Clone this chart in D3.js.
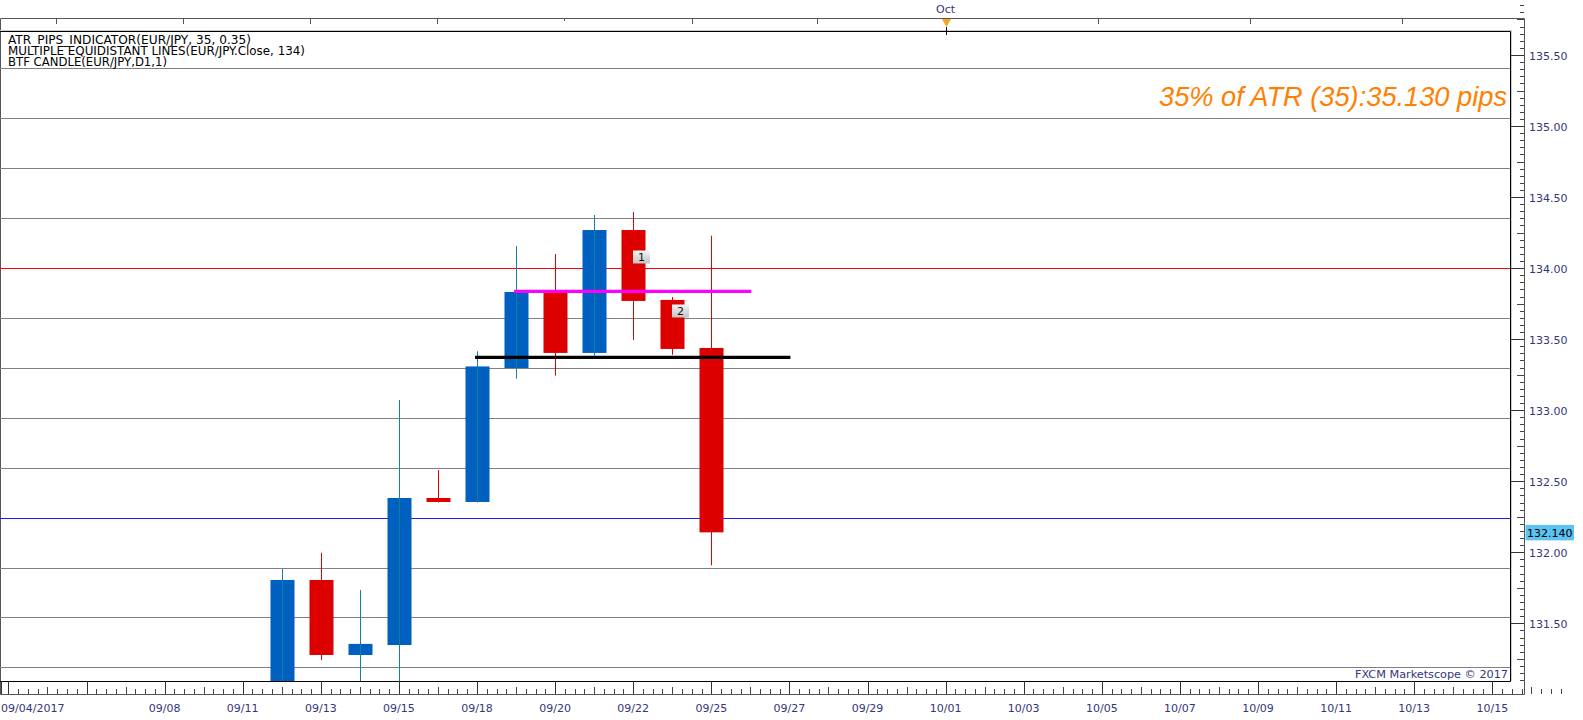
<!DOCTYPE html>
<html><head><meta charset="utf-8">
<script src="https://cdn.jsdelivr.net/npm/d3@7"></script>
<style>html,body{margin:0;padding:0;background:#fff;overflow:hidden}svg{display:block}</style>
</head><body>
<svg id="c" width="1583" height="720"></svg>
<script>
// ---------- data ----------
const barDates = ["09/04","09/05","09/06","09/07","09/08","09/10","09/11","09/12","09/13","09/14","09/15","09/17","09/18","09/19","09/20","09/21","09/22","09/24","09/25","09/26","09/27","09/28","09/29","09/30","10/01","10/02","10/03","10/04","10/05","10/06","10/07","10/08","10/09","10/10","10/11","10/12","10/13","10/14","10/15","10/16"];
const candleDates = ["09/12","09/13","09/14","09/15","09/17","09/18","09/19","09/20","09/21","09/22","09/24","09/25"];
const opens  = [131.00, 131.805, 131.277, 131.347, 132.382, 132.354, 133.297, 133.827, 133.403, 134.268, 133.776, 133.438];
const highs  = [131.882, 131.997, 131.735, 133.072, 132.579, 133.415, 134.156, 134.099, 134.374, 134.395, 133.797, 134.228];
const lows   = [130.95, 131.242, 131.03, 130.98, 132.35, 132.35, 133.222, 133.243, 133.384, 133.494, 133.39, 131.908];
const closes = [131.805, 131.277, 131.355, 132.382, 132.354, 133.308, 133.832, 133.403, 134.268, 133.769, 133.431, 132.14];
const dateLabels = ["09/04/2017","09/08","09/11","09/13","09/15","09/18","09/20","09/22","09/25","09/27","09/29","10/01","10/03","10/05","10/07","10/09","10/11","10/13","10/15"];
const dateLabelAt = ["09/04","09/08","09/11","09/13","09/15","09/18","09/20","09/22","09/25","09/27","09/29","10/01","10/03","10/05","10/07","10/09","10/11","10/13","10/15"];
const priceTicks = [131.5,132.0,132.5,133.0,133.5,134.0,134.5,135.0,135.5];
const equiLevels = [135.405,135.054,134.703,134.351,134.000,133.649,133.297,132.946,132.595,132.244,131.892,131.541,131.190];
const equiColors = ["#808080","#808080","#808080","#808080","#ff0000","#808080","#808080","#808080","#808080","#1a1aff","#808080","#808080","#808080"];
const hLines = [{from:"09/19", to:"09/26", price:133.836, color:"#ff00ff"},{from:"09/18", to:"09/27", price:133.372, color:"#000000"}];
const marks = [{date:"09/22", price:134.075, text:"1"},{date:"09/24", price:133.695, text:"2"}];
const topTickIdx = [1.22,4.47,7.72,10.97,14.23,17.5,20.7,27.9,31.8,35.7];
const legendLines = ["ATR_PIPS_INDICATOR(EUR/JPY, 35, 0.35)","MULTIPLE EQUIDISTANT LINES(EUR/JPY.Close, 134)","BTF CANDLE(EUR/JPY,D1,1)"];
const lastPrice = 132.140;
const atrText = "35% of ATR (35):35.130 pips";

// ---------- layout ----------
const P = {l:0, t:31, r:1510, b:681};
const svg = d3.select("#c");
const idx = d => barDates.indexOf(d);
const xI = d3.scaleLinear().domain([0,1]).range([8.4, 47.45]);
const x = d => xI(idx(d));
const y = d3.scaleLinear().domain([131.5,135.5]).range([623.3,55]);
const font = "DejaVu Sans, Tahoma, sans-serif";
const navy = "#35357a";

svg.append("defs").append("clipPath").attr("id","pc").append("rect")
  .attr("x",P.l).attr("y",P.t).attr("width",P.r-P.l).attr("height",P.b-P.t);
const grad = svg.select("defs").append("linearGradient").attr("id","lg").attr("x1",0).attr("y1",0).attr("x2",0).attr("y2",1);
grad.append("stop").attr("offset","0").attr("stop-color","#f4f4f4");
grad.append("stop").attr("offset","1").attr("stop-color","#c4c4c4");

// outer frame
svg.append("path").attr("d",`M0.5,694.5 V18.5 H1524.5 V694.5 H0.5`).attr("fill","none").attr("stroke","#555").attr("stroke-width",1);
// top strip ticks
svg.selectAll(".tt").data(topTickIdx).join("line")
  .attr("x1",d=>Math.round(xI(d))+0.5).attr("x2",d=>Math.round(xI(d))+0.5)
  .attr("y1",18).attr("y2",(d,i)=>i===4?21:24).attr("stroke","#555");

const plot = svg.append("g").attr("clip-path","url(#pc)");

// equidistant lines
plot.selectAll(".eq").data(equiLevels).join("line")
  .attr("x1",P.l).attr("x2",P.r)
  .attr("y1",d=>Math.round(y(d))+0.5).attr("y2",d=>Math.round(y(d))+0.5)
  .attr("stroke",(d,i)=>equiColors[i]).attr("stroke-width",1);

// candles
const candles = candleDates.map((d,i)=>({d, o:opens[i], h:highs[i], l:lows[i], c:closes[i]}));
const bw = 24;
plot.selectAll(".wick").data(candles).join("line")
  .attr("x1",d=>Math.round(x(d.d))+0.5).attr("x2",d=>Math.round(x(d.d))+0.5)
  .attr("y1",d=>y(d.h)).attr("y2",d=>y(d.l))
  .attr("stroke",d=>d.c>=d.o?"#1580a0":"#e00000").attr("stroke-width",1);
plot.selectAll(".body").data(candles).join("rect")
  .attr("x",d=>Math.round(x(d.d))-bw/2+0.5).attr("width",bw)
  .attr("y",d=>y(Math.max(d.o,d.c))).attr("height",d=>Math.max(3,Math.abs(y(d.o)-y(d.c))))
  .attr("fill",d=>d.c>=d.o?"#0060c0":"#dd0000");
plot.selectAll(".wick2").data(candles).join("line")
  .attr("x1",d=>Math.round(x(d.d))+0.5).attr("x2",d=>Math.round(x(d.d))+0.5)
  .attr("y1",d=>y(Math.max(d.o,d.c))).attr("y2",d=>y(Math.min(d.o,d.c)))
  .attr("stroke",d=>d.c>=d.o?"#108a90":"#e00000").attr("stroke-width",1).attr("opacity",0.8);

// horizontal level lines
plot.selectAll(".hl").data(hLines).join("line")
  .attr("x1",d=>x(d.from)-2).attr("x2",d=>x(d.to)+1)
  .attr("y1",d=>y(d.price)).attr("y2",d=>y(d.price))
  .attr("stroke",d=>d.color).attr("stroke-width",3.2);

// number marks
const mg = plot.selectAll(".mk").data(marks).join("g")
  .attr("transform",d=>`translate(${Math.round(x(d.date))},${Math.round(y(d.price))-6.5})`);
mg.append("rect").attr("width",17).attr("height",13).attr("fill","url(#lg)");
mg.append("text").attr("x",8.5).attr("y",10.5).attr("text-anchor","middle")
  .attr("font-family",font).attr("font-size",11).attr("fill","#111").text(d=>d.text);

// ATR text
svg.append("text").attr("x",1507).attr("y",106).attr("text-anchor","end")
  .attr("font-family","Liberation Sans, Arial, sans-serif").attr("font-style","italic")
  .attr("font-size",28).attr("fill","#ff8000").attr("textLength",348).attr("lengthAdjust","spacingAndGlyphs").text(atrText);

// legend
svg.selectAll(".lgd").data(legendLines).join("text")
  .attr("x",8).attr("y",(d,i)=>44+i*11.1)
  .attr("font-family",font).attr("font-size",11.5).attr("fill","#000")
  .attr("textLength",(d,i)=>[243,297,159][i]).attr("lengthAdjust","spacingAndGlyphs").text(d=>d);

// copyright
svg.append("text").attr("x",1508).attr("y",677.5).attr("text-anchor","end")
  .attr("font-family",font).attr("font-size",11).attr("fill",navy)
  .attr("textLength",153).attr("lengthAdjust","spacingAndGlyphs").text("FXCM Marketscope \u00a9 2017");

// plot border
svg.append("path").attr("d",`M${P.l},${P.t+0.5} H${P.r+0.5} V${P.b+0.5} H${P.l}`).attr("fill","none").attr("stroke","#000").attr("stroke-width",1);
svg.append("line").attr("x1",P.l).attr("x2",P.r+2).attr("y1",P.t-0.5).attr("y2",P.t-0.5).attr("stroke","#ccc");
svg.append("line").attr("x1",P.r+1.5).attr("x2",P.r+1.5).attr("y1",P.t).attr("y2",P.b).attr("stroke","#ccc");

// right axis
const minor = d3.range(131.10, 135.86, 0.05);
svg.selectAll(".ymin").data(minor).join("line")
  .attr("x1",d=>{const r=Math.round(d*100)%50; return r===25?1517:1520;}).attr("x2",1524)
  .attr("y1",d=>Math.round(y(d))+0.5).attr("y2",d=>Math.round(y(d))+0.5).attr("stroke","#444");
svg.selectAll(".ymaj").data(priceTicks).join("line")
  .attr("x1",1511).attr("x2",1524)
  .attr("y1",d=>Math.round(y(d))+0.5).attr("y2",d=>Math.round(y(d))+0.5).attr("stroke","#333");
svg.selectAll(".ylab").data(priceTicks).join("text")
  .attr("x",1529).attr("y",d=>y(d)+4.5)
  .attr("font-family",font).attr("font-size",11).attr("fill",navy).text(d=>d.toFixed(2));
// last price label
svg.append("rect").attr("x",1525.5).attr("y",y(lastPrice)-7.5).attr("width",48.5).attr("height",15.5).attr("fill","#5cc4f2");
svg.append("text").attr("x",1527).attr("y",y(lastPrice)+4.5)
  .attr("font-family",font).attr("font-size",11).attr("fill","#000").text(lastPrice.toFixed(3));

// bottom axis
const minorX = d3.range(-1, 40, 0.25).filter(v=>Math.abs(v-Math.round(v/2)*2)>1e-6);
svg.selectAll(".xmin").data(minorX).join("line")
  .attr("x1",d=>Math.round(xI(d))+0.5).attr("x2",d=>Math.round(xI(d))+0.5)
  .attr("y1",d=>Number.isInteger(d)?687:689).attr("y2",694).attr("stroke","#444");
const majorX = barDates.map((d,i)=>i).filter(i=>i%2===0);
svg.selectAll(".xmaj").data(majorX).join("line")
  .attr("x1",d=>Math.round(xI(d))+0.5).attr("x2",d=>Math.round(xI(d))+0.5)
  .attr("y1",681).attr("y2",694).attr("stroke","#333");
svg.append("line").attr("x1",1.5).attr("x2",1.5).attr("y1",681).attr("y2",694).attr("stroke","#333");
svg.selectAll(".xlab").data(dateLabels).join("text")
  .attr("x",(d,i)=>i===0?1:x(dateLabelAt[i])).attr("y",712)
  .attr("text-anchor",(d,i)=>i===0?"start":"middle")
  .attr("font-family",font).attr("font-size",11).attr("fill",navy).text(d=>d);

// Oct marker
svg.append("text").attr("x",x("10/01")).attr("y",12.5).attr("text-anchor","middle")
  .attr("font-family",font).attr("font-size",11).attr("fill",navy).text("Oct");
const ox = Math.round(x("10/01"))+0.5;
svg.append("path").attr("d",`M${ox-4.5},19 H${ox+4.5} L${ox},27 Z`).attr("fill","#f5a623");
svg.append("line").attr("x1",ox).attr("x2",ox).attr("y1",27).attr("y2",35).attr("stroke","#000");
</script>
</body></html>
